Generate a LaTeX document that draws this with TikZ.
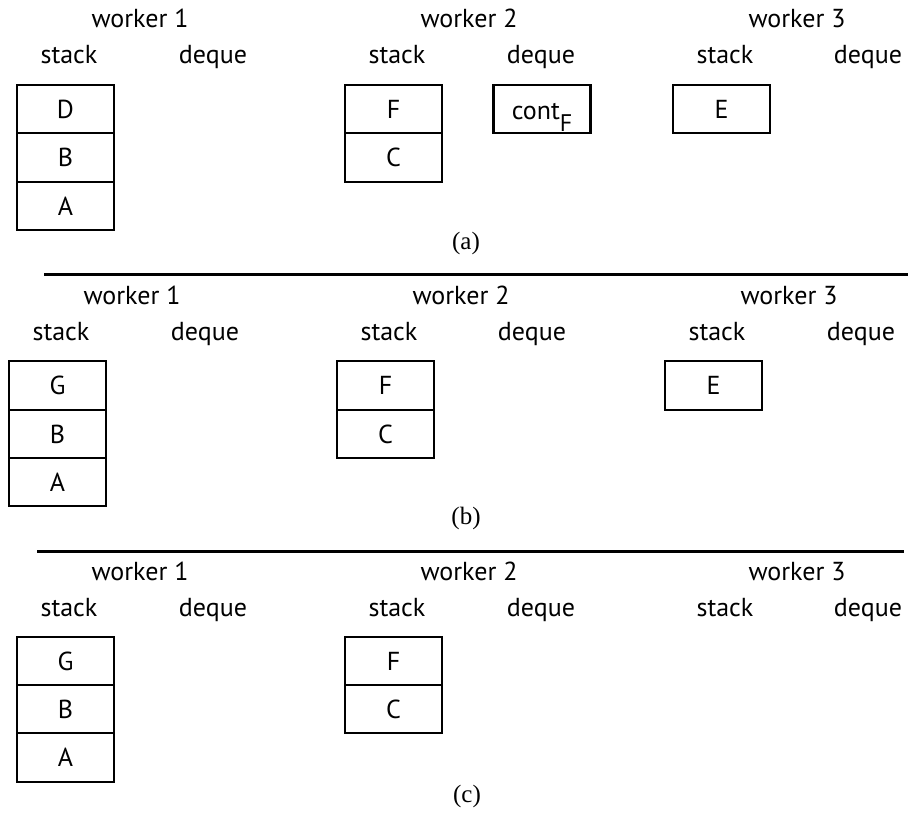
\documentclass[tikz,border=0pt]{standalone}
\usepackage{fontspec}
\setsansfont{PT Sans}
\newfontfamily\capfont{Liberation Serif}
\begin{document}
\begin{tikzpicture}[x=1pt,y=-1pt,
  lbl/.style={font=\sffamily\fontsize{26}{26}\selectfont, anchor=base, inner sep=0pt},
  cell/.style={draw, line width=2.2pt, minimum width=97pt, minimum height=48.5pt, inner sep=0pt,
     font=\sffamily\fontsize{26}{26}\selectfont},
  captxt/.style={font=\capfont\fontsize{25}{25}\selectfont, inner sep=0pt},
  sepline/.style={line width=2.2pt}]
\useasboundingbox (0,0) rectangle (908,815);
% ---------------- panel (a)
\node[lbl] (aw1) at (140,27) {worker 1};
\node[lbl] (aw2) at (469,27) {worker 2};
\node[lbl] (aw3) at (797,27) {worker 3};
\node[lbl] (as1) at (69,63) {stack};
\node[lbl] (ad1) at (213,63) {deque};
\node[lbl] (as2) at (397,63) {stack};
\node[lbl] (ad2) at (541,63) {deque};
\node[lbl] (as3) at (725,63) {stack};
\node[lbl] (ad3) at (868,63) {deque};
\node[cell] (aD) at (65.5,109) {D};
\node[cell] (aB) at (65.5,157.5) {B};
\node[cell] (aA) at (65.5,206) {A};
\node[cell] (aF) at (393.5,109) {F};
\node[cell] (aC) at (393.5,157.5) {C};
\node[cell, text height=20pt, text depth=0pt] (acont) at (542,109) {cont\raisebox{-12pt}{\fontsize{24}{24}\selectfont F}};
\node[cell] (aE) at (721.5,109) {E};
\node[captxt] (capa) at (466,243) {(a)};
\coordinate (l1a) at (44,274.5);
\coordinate (l1b) at (908,274.5);
\draw[sepline] (l1a) -- (l1b);
% ---------------- panel (b)
\node[lbl] (bw1) at (132,304) {worker 1};
\node[lbl] (bw2) at (461,304) {worker 2};
\node[lbl] (bw3) at (789,304) {worker 3};
\node[lbl] (bs1) at (61,340) {stack};
\node[lbl] (bd1) at (205,340) {deque};
\node[lbl] (bs2) at (389,340) {stack};
\node[lbl] (bd2) at (532,340) {deque};
\node[lbl] (bs3) at (717,340) {stack};
\node[lbl] (bd3) at (861,340) {deque};
\node[cell] (bG) at (57.5,385.5) {G};
\node[cell] (bB) at (57.5,434) {B};
\node[cell] (bA) at (57.5,482) {A};
\node[cell] (bF) at (385.5,385.5) {F};
\node[cell] (bC) at (385.5,434) {C};
\node[cell] (bE) at (713.5,385.5) {E};
\node[captxt] (capb) at (466,518) {(b)};
\coordinate (l2a) at (37,551.5);
\coordinate (l2b) at (904,551.5);
\draw[sepline] (l2a) -- (l2b);
% ---------------- panel (c)
\node[lbl] (cw1) at (140,580) {worker 1};
\node[lbl] (cw2) at (469,580) {worker 2};
\node[lbl] (cw3) at (797,580) {worker 3};
\node[lbl] (cs1) at (69,616) {stack};
\node[lbl] (cd1) at (213,616) {deque};
\node[lbl] (cs2) at (397,616) {stack};
\node[lbl] (cd2) at (541,616) {deque};
\node[lbl] (cs3) at (725,616) {stack};
\node[lbl] (cd3) at (868,616) {deque};
\node[cell] (cG) at (65.5,661) {G};
\node[cell] (cB) at (65.5,709) {B};
\node[cell] (cA) at (65.5,757.5) {A};
\node[cell] (cF) at (393.5,661) {F};
\node[cell] (cC) at (393.5,709) {C};
\node[captxt] (capc) at (467,796) {(c)};
\end{tikzpicture}
\end{document}
